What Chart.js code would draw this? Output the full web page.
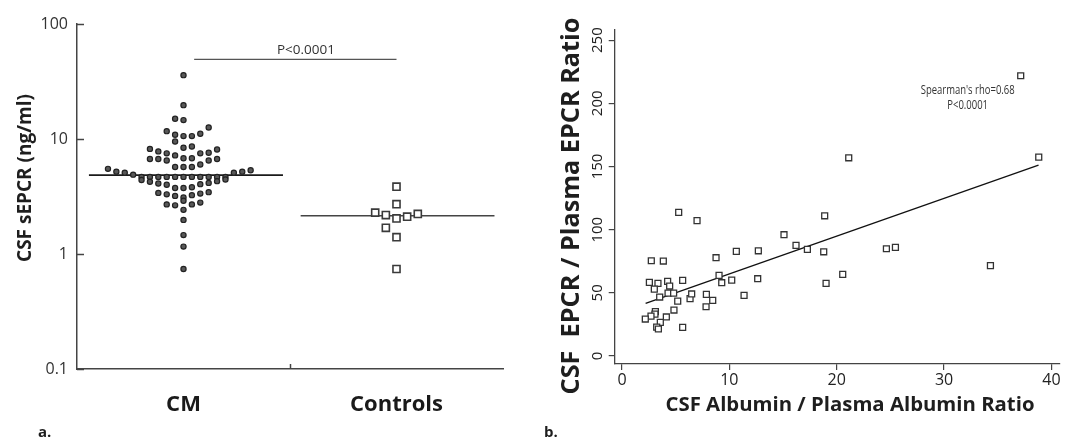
<!DOCTYPE html>
<html><head><meta charset="utf-8">
<script src="https://cdn.jsdelivr.net/npm/chart.js@4.4.1/dist/chart.umd.min.js"></script>
<style>
html,body{margin:0;padding:0;background:#fff;}
#wrap{position:relative;width:1072px;height:440px;overflow:hidden;background:#fff;}
#c1{position:absolute;left:0;top:0;}
#c2{position:absolute;left:540px;top:0;}
</style></head><body>
<div id="wrap">
<canvas id="c1" width="540" height="440"></canvas>
<canvas id="c2" width="532" height="440"></canvas>
</div>
<script>
// ---------- Panel a data ----------
const groups = ['CM', 'Controls'];
const groupPos = [0.5, 1.5];
const groupDivider = 1;
const yTicksA = [0.1, 1, 10, 100];
const yTickLabelsA = ['0.1', '1', '10', '100'];
const cmValues = [
  35.9, 19.7, 15.0, 14.6, 12.6, 11.7, 11.1, 10.9, 10.6, 10.6, 9.5,
  8.6, 8.4, 8.2, 8.1,
  7.8, 7.6, 7.5, 7.5, 7.2,
  6.8, 6.8, 6.7, 6.7, 6.7, 6.5, 6.5,
  6.0, 5.7, 5.7, 5.7,
  5.5, 5.2, 5.1, 4.9, 5.1, 5.2, 5.35,
  4.68, 4.68, 4.68, 4.68, 4.68, 4.68, 4.68, 4.68, 4.68, 4.68, 4.68,
  4.4, 4.25, 4.1, 4.0, 4.05, 4.15, 4.3, 4.45,
  3.75, 3.75, 3.8,
  3.4, 3.3, 3.2, 3.1, 3.25, 3.35, 3.45,
  2.7, 2.65, 2.9, 2.7, 2.8,
  2.42, 1.98, 1.46, 1.16, 0.74
];
const cmColumns = [
  0, 0, -1, 0, 3, -2, 2, -1, 0, 1, -1,
  1, 0, -4, 4,
  -3, 3, -2, 2, -1,
  0, 1, -4, -3, 4, -2, 3,
  2, -1, 0, 1,
  -9, -8, -7, -6, 6, 7, 8,
  -5, -4, -3, -2, -1, 0, 1, 2, 3, 4, 5,
  -5, -4, -3, -2, 2, 3, 4, 5,
  -1, 0, 1,
  -3, -2, -1, 0, 1, 2, 3,
  -2, -1, 0, 1, 2,
  0, 0, 0, 0, 0
];
const ctrlValues = [3.85, 2.71, 2.29, 2.18, 2.04, 2.11, 2.23, 1.69, 1.40, 0.74];
const ctrlColumns = [0, 0, -2, -1, 0, 1, 2, -1, 0, 0];
const cmMedian = 4.85;
const ctrlMedian = 2.15;
const cmMedianSpan = [0.056, 0.967];
const ctrlMedianSpan = [1.05, 1.96];
const pBracket = {x: [0.55, 1.5], y: 49.3};
const pTextA = 'P<0.0001';
const pTextAAt = [1.075, 59];

// ---------- Panel b data ----------
const albuminRatio = [37.14, 38.82, 21.12, 5.28, 6.99, 18.88, 15.09, 16.21, 17.27, 18.79,
  24.63, 25.47, 34.32, 10.65, 12.70, 8.76, 2.73, 3.85, 20.56, 19.01,
  9.04, 9.29, 10.22, 12.64, 2.55, 3.35, 4.25, 4.44, 5.65, 3.01,
  4.29, 4.81, 3.51, 5.19, 6.34, 6.49, 7.86, 8.45, 7.83, 11.37,
  4.84, 3.11, 3.07, 2.70, 2.17, 4.13, 3.57, 3.23, 3.39, 5.65];
const epcrRatio = [221.8, 157.4, 156.9, 113.7, 107.1, 111.0, 96.0, 87.6, 84.4, 82.5,
  84.9, 86.0, 71.5, 82.8, 83.3, 77.8, 75.4, 75.2, 64.6, 57.5,
  63.8, 58.0, 60.1, 61.2, 58.3, 57.5, 59.1, 55.4, 59.9, 53.0,
  49.8, 49.8, 46.7, 43.5, 45.4, 49.1, 48.8, 44.0, 39.0, 48.0,
  36.4, 35.1, 33.2, 31.6, 29.3, 30.9, 26.6, 22.9, 21.4, 22.7];
const fitX = [2.2, 38.8];
const fitY = [41.7, 151.1];
const xTicksB = [0, 10, 20, 30, 40];
const yTicksB = [0, 50, 100, 150, 200, 250];
const statLines = ["Spearman's rho=0.68", 'P<0.0001'];
const statAt = [32.2, 210];

// ---------- helpers ----------
const FAM = '"Open Sans", "Noto Sans", sans-serif';
function fitSize(ctx, text, weight, target) {
  ctx.font = weight + ' 20px ' + FAM;
  return 20 * target / ctx.measureText(text).width;
}
function drawFitted(ctx, text, weight, target, cx, cy, rot, color) {
  const s = fitSize(ctx, text, weight, target);
  ctx.save();
  ctx.translate(cx, cy);
  if (rot) ctx.rotate(rot);
  ctx.font = weight + ' ' + s.toFixed(2) + 'px ' + FAM;
  ctx.fillStyle = color;
  ctx.textAlign = 'center';
  ctx.textBaseline = 'middle';
  ctx.fillText(text, 0, 0);
  ctx.restore();
}
const cmStep = 0.0394;
const ctrlStep = 0.05;

// ---------- Panel a ----------
const leftDecor = {
  id: 'leftDecor',
  afterDraw(chart) {
    const {ctx, chartArea: a} = chart;
    const x = chart.scales.x, y = chart.scales.y;
    ctx.save();
    ctx.strokeStyle = '#444';
    ctx.lineWidth = 1.5;
    yTicksA.forEach(v => {
      const py = Math.round(y.getPixelForValue(v)) + 0.5;
      ctx.beginPath(); ctx.moveTo(a.left, py); ctx.lineTo(a.left + 7, py); ctx.stroke();
    });
    const px = Math.round(x.getPixelForValue(groupDivider)) + 0.5;
    ctx.beginPath(); ctx.moveTo(px, a.bottom); ctx.lineTo(px, a.bottom - 5); ctx.stroke();
    ctx.fillStyle = '#333';
    ctx.font = '13.5px ' + FAM;
    ctx.textAlign = 'center'; ctx.textBaseline = 'middle';
    ctx.fillText(pTextA, x.getPixelForValue(pTextAAt[0]), y.getPixelForValue(pTextAAt[1]));
    ctx.restore();
    drawFitted(ctx, 'CSF sEPCR (ng/ml)', 'bold', 168, 26, 178, -Math.PI / 2, '#1e1e1e');
    ctx.save();
    ctx.font = 'bold 15px ' + FAM; ctx.fillStyle = '#1e1e1e';
    ctx.textAlign = 'left'; ctx.textBaseline = 'middle';
    ctx.fillText('a.', 38, 433);
    ctx.restore();
  }
};

new Chart(document.getElementById('c1'), {
  type: 'scatter',
  data: {
    datasets: [
      {label: groups[0], data: cmValues.map((v, i) => ({x: groupPos[0] + cmColumns[i] * cmStep, y: v})),
        pointStyle: 'circle', pointRadius: 2.6, backgroundColor: '#585858', borderColor: '#222', borderWidth: 1.2},
      {label: groups[1], data: ctrlValues.map((v, i) => ({x: groupPos[1] + ctrlColumns[i] * ctrlStep, y: v})),
        pointStyle: 'rect', pointRadius: 5, backgroundColor: '#ffffff', borderColor: '#3a3a3a', borderWidth: 1.6},
      {type: 'line', data: cmMedianSpan.map(xv => ({x: xv, y: cmMedian})), borderColor: '#1a1a1a', borderWidth: 1.8, pointRadius: 0},
      {type: 'line', data: ctrlMedianSpan.map(xv => ({x: xv, y: ctrlMedian})), borderColor: '#444', borderWidth: 1.5, pointRadius: 0},
      {type: 'line', data: pBracket.x.map(xv => ({x: xv, y: pBracket.y})), borderColor: '#555', borderWidth: 1.3, pointRadius: 0}
    ]
  },
  options: {
    responsive: false, animation: false, devicePixelRatio: 1,
    layout: {padding: {left: 0, right: 37, top: 24, bottom: 0}},
    plugins: {legend: {display: false}, tooltip: {enabled: false}},
    scales: {
      x: {
        type: 'linear', min: 0, max: 2,
        afterBuildTicks: s => { s.ticks = groupPos.map(v => ({value: v})); },
        ticks: {callback: (v, i) => groups[i], font: {family: FAM, size: 22, weight: 'bold'}, color: '#1a1a1a', padding: 23, autoSkip: false, maxRotation: 0},
        grid: {display: false, drawTicks: false},
        border: {display: true, color: '#444', width: 1.5},
        afterFit: s => { s.height = 71; }
      },
      y: {
        type: 'logarithmic', min: 0.1, max: 100,
        afterBuildTicks: s => { s.ticks = yTicksA.map(v => ({value: v})); },
        ticks: {callback: (v, i) => yTickLabelsA[i], font: {family: FAM, size: 16}, color: '#333', padding: 9, autoSkip: false},
        grid: {display: false, drawTicks: false},
        border: {display: true, color: '#444', width: 1.5},
        afterFit: s => { s.width = 77; }
      }
    }
  },
  plugins: [leftDecor]
});

// ---------- Panel b ----------
const rightDecor = {
  id: 'rightDecor',
  afterDraw(chart) {
    const {ctx} = chart;
    const x = chart.scales.x, y = chart.scales.y;
    ctx.save();
    ctx.fillStyle = '#222';
    ctx.font = '15px ' + FAM;
    ctx.textAlign = 'center'; ctx.textBaseline = 'middle';
    y.ticks.forEach((t, i) => {
      const py = y.getPixelForTick(i);
      ctx.save(); ctx.translate(57.5, py); ctx.rotate(-Math.PI / 2);
      ctx.fillText(String(t.value), 0, 0); ctx.restore();
    });
    ctx.restore();
    // statistics text (condensed)
    ctx.save();
    ctx.fillStyle = '#333';
    ctx.font = '12px ' + FAM;
    ctx.textAlign = 'center'; ctx.textBaseline = 'middle';
    const cx = x.getPixelForValue(statAt[0]), cy = y.getPixelForValue(statAt[1]);
    const w0 = ctx.measureText(statLines[0]).width;
    const sx = 94 / w0;
    ctx.translate(cx, cy); ctx.scale(sx, 1);
    ctx.fillText(statLines[0], 0, 0);
    ctx.fillText(statLines[1], 0, 14.7);
    ctx.restore();
    drawFitted(ctx, 'CSF  EPCR / Plasma EPCR Ratio', 'bold', 377, 32, 206, -Math.PI / 2, '#1e1e1e');
    drawFitted(ctx, 'CSF Albumin / Plasma Albumin Ratio', 'bold', 369, 310, 405, 0, '#1e1e1e');
    ctx.save();
    ctx.font = 'bold 15px ' + FAM; ctx.fillStyle = '#1e1e1e';
    ctx.textAlign = 'left'; ctx.textBaseline = 'middle';
    ctx.fillText('b.', 4, 433);
    ctx.restore();
  }
};

new Chart(document.getElementById('c2'), {
  type: 'scatter',
  data: {
    datasets: [
      {data: albuminRatio.map((xv, i) => ({x: xv, y: epcrRatio[i]})),
        pointStyle: 'rect', pointRadius: 4.2, backgroundColor: '#ffffff', borderColor: '#333', borderWidth: 1.3},
      {type: 'line', data: fitX.map((xv, i) => ({x: xv, y: fitY[i]})), borderColor: '#111', borderWidth: 1.3, pointRadius: 0}
    ]
  },
  options: {
    responsive: false, animation: false, devicePixelRatio: 1,
    layout: {padding: {left: 0, right: 12, top: 30, bottom: 0}},
    plugins: {legend: {display: false}, tooltip: {enabled: false}},
    scales: {
      x: {
        type: 'linear', min: -0.68, max: 40.8,
        afterBuildTicks: s => { s.ticks = xTicksB.map(v => ({value: v})); },
        ticks: {font: {family: FAM, size: 16}, color: '#222', padding: 1, autoSkip: false, maxRotation: 0},
        grid: {display: true, drawOnChartArea: false, drawTicks: true, tickLength: 6, color: '#444', lineWidth: 1.2},
        border: {display: true, color: '#444', width: 1.3},
        afterFit: s => { s.height = 76; }
      },
      y: {
        type: 'linear', min: -6.3, max: 258,
        afterBuildTicks: s => { s.ticks = yTicksB.map(v => ({value: v})); },
        ticks: {display: false, autoSkip: false},
        grid: {display: true, drawOnChartArea: false, drawTicks: true, tickLength: 6, color: '#444', lineWidth: 1.2},
        border: {display: true, color: '#444', width: 1.3},
        afterFit: s => { s.width = 74.7; }
      }
    }
  },
  plugins: [rightDecor]
});
</script>
</body></html>
